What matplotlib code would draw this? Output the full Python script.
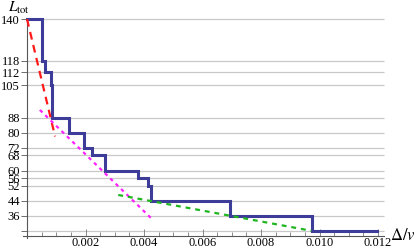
import numpy as np
import matplotlib
matplotlib.use("Agg")
import matplotlib.pyplot as plt

# step data for L_tot against Delta/v
step_x = [0.0, 0.00052, 0.00062, 0.00082, 0.00086, 0.00144, 0.00195, 0.00223,
          0.00268, 0.00378, 0.00412, 0.00423, 0.00695, 0.00974, 0.01197]
step_y = [140, 118, 112, 105, 88, 80, 72, 68, 60, 56, 52, 44, 36, 28, 28]

# dashed fit lines (end points)
red_x = [0.0, 0.00096]
red_y = [140, 78]
mag_x = [0.00044, 0.0043]
mag_y = [92, 34]
green_x = [0.00312, 0.00972]
green_y = [47.1, 28.2]

yticks = [140, 118, 112, 105, 88, 80, 72, 68, 60, 56, 52, 44, 36]
ygrid = yticks + [28]
xticks = [0.002, 0.004, 0.006, 0.008, 0.010, 0.012]
xlabels = ["0.002", "0.004", "0.006", "0.008", "0.010", "0.012"]

plt.rcParams["font.family"] = "Liberation Serif"
plt.rcParams["mathtext.fontset"] = "stix"

W, H = 416, 248
fig = plt.figure(figsize=(W / 100, H / 100), dpi=100)
# pixel box of the axes: x 20..386, y 17..239
ax = fig.add_axes([20 / W, (H - 239) / H, 366 / W, 222 / H])
xpp = 0.012 / (378 - 27)       # data per pixel in x
ypp = 104 / (216 - 19)         # data per pixel in y
ax.set_xlim(-7 * xpp, 0.012 + 8 * xpp)
ax.set_ylim(140 - 220 * ypp, 140 + 2 * ypp)
y_axis = 140 - 217 * ypp

ax.hlines(ygrid, 0, 0.0122, color="#c8c8c8", lw=0.9, zorder=1)

ax.step(step_x, step_y, where="post", color="#3d3d99", lw=2.2, zorder=4,
        solid_joinstyle="miter")
ax.plot(red_x, red_y, color="#ff1a1a", lw=1.6, ls=(0, (3.5, 2.5)), zorder=5)
ax.plot(mag_x, mag_y, color="#ff22ff", lw=1.6, ls=(0, (1.6, 1.8)), zorder=5)
ax.plot(green_x, green_y, color="#1fb51f", lw=1.6, ls=(0, (2.2, 2.2)), zorder=5)

for s in ["top", "right"]:
    ax.spines[s].set_visible(False)
ax.spines["left"].set_position(("data", 0))
ax.spines["bottom"].set_position(("data", y_axis))
ax.spines["left"].set_bounds(y_axis - 1.5 * ypp, 140)
ax.spines["bottom"].set_bounds(-4 * xpp, 0.0122)
ax.spines["left"].set_color("#555555")
ax.spines["bottom"].set_color("#555555")
ax.spines["left"].set_linewidth(0.8)
ax.spines["bottom"].set_linewidth(0.8)

ax.set_yticks(ygrid)
ax.set_yticklabels([str(v) for v in yticks] + [""])
ax.set_xticks(xticks)
ax.set_xticklabels(xlabels)
ax.set_xticks(np.arange(0.0005, 0.0121, 0.0005), minor=True)
ax.tick_params(axis="y", direction="out", length=4, width=0.6, color="#555555",
               labelsize=9, pad=1)
ax.tick_params(axis="x", which="major", direction="in", length=5, width=0.6,
               color="#777777", labelsize=9, pad=1)
ax.tick_params(axis="x", which="minor", direction="in", length=3, width=0.6,
               color="#777777")

fig.text(8 / W, 1 - 12 / H, r"$L_{\rm tot}$", fontsize=11, va="baseline",
         ha="left")
fig.text(390 / W, 1 - 236 / H, r"$\mathit{\Delta}/v$", fontsize=12,
         va="center", ha="left")

fig.savefig("out.png", dpi=100)
